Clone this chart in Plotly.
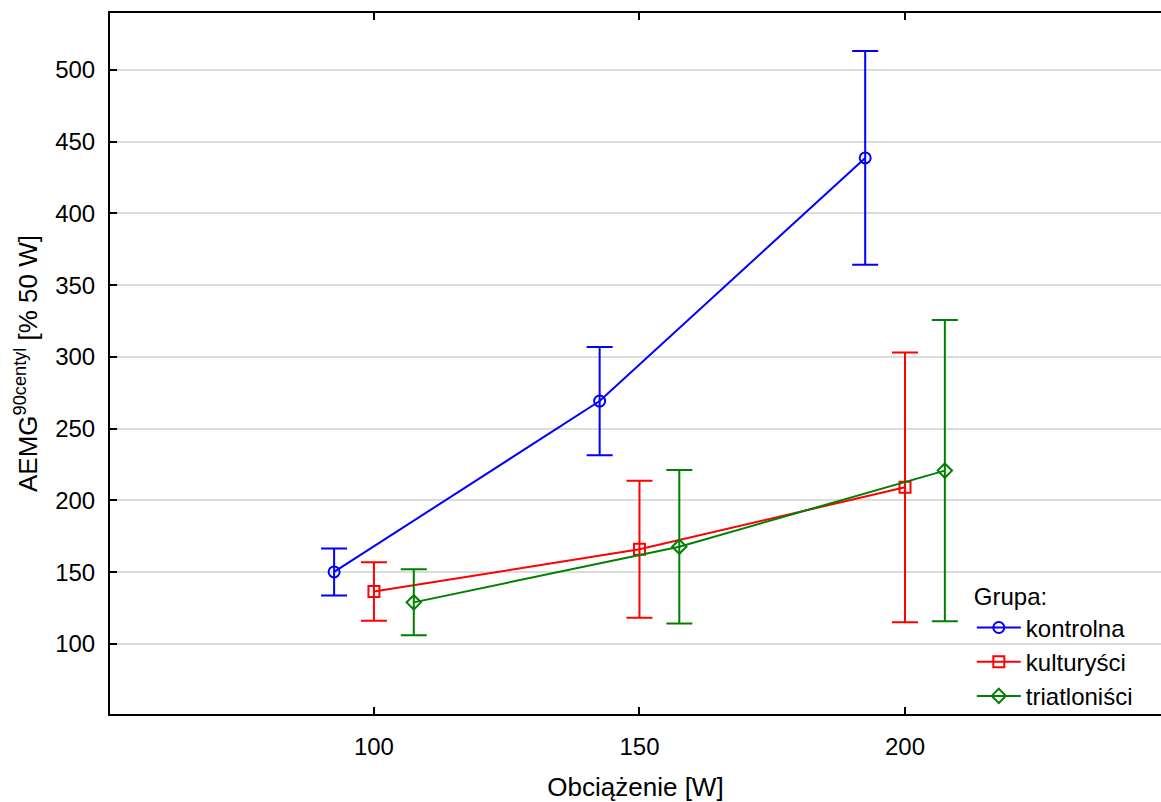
import plotly.graph_objects as go

loads = [100, 150, 200]
groups = ["kontrolna", "kulturyści", "triatloniści"]
means = {
    "kontrolna": [150.2, 269.3, 438.7],
    "kulturyści": [136.5, 166.0, 209.2],
    "triatloniści": [129.0, 167.8, 220.8],
}
errs = {
    "kontrolna": [16.4, 37.7, 74.5],
    "kulturyści": [20.4, 47.7, 94.0],
    "triatloniści": [23.0, 53.5, 105.0],
}
offsets = {"kontrolna": -7.5, "kulturyści": 0.0, "triatloniści": 7.5}
colors = {"kontrolna": "#0000FF", "kulturyści": "#FF0000", "triatloniści": "#008000"}
symbols = {"kontrolna": "circle-open", "kulturyści": "square-open", "triatloniści": "diamond-open"}

FONT = "Liberation Sans, Arial, sans-serif"

fig = go.Figure()
for g in groups:
    fig.add_trace(go.Scatter(
        x=[l + offsets[g] for l in loads],
        y=means[g],
        mode="lines+markers",
        name=g,
        line=dict(color=colors[g], width=2),
        marker=dict(symbol=symbols[g], size=11, color=colors[g], line=dict(width=2, color=colors[g])),
        error_y=dict(type="data", array=errs[g], visible=True, color=colors[g], thickness=2, width=13),
    ))

fig.update_layout(
    width=1161, height=802,
    margin=dict(l=110, r=0, t=13, b=88, autoexpand=False),
    paper_bgcolor="white", plot_bgcolor="white",
    font=dict(family=FONT, size=24, color="black"),
    showlegend=True,
    legend=dict(
        title=dict(text="Grupa:", font=dict(size=24)),
        font=dict(size=24),
        x=0.820, xanchor="left", y=-0.006, yanchor="bottom",
        bgcolor="rgba(0,0,0,0)",
        tracegroupgap=0, itemwidth=44,
    ),
    xaxis=dict(
        range=[50.3, 248.2],
        tickvals=loads, ticktext=[str(l) for l in loads],
        ticks="inside", ticklen=7, tickwidth=2, tickcolor="black",
        showline=True, linecolor="black", linewidth=2, mirror="ticks",
        showgrid=False, zeroline=False,
        tickfont=dict(size=24), ticklabelstandoff=10,
        title=dict(text="Obciążenie [W]", font=dict(size=26), standoff=35),
    ),
    yaxis=dict(
        range=[51.2, 539.7],
        tickvals=[100, 150, 200, 250, 300, 350, 400, 450, 500],
        ticks="inside", ticklen=7, tickwidth=2, tickcolor="black",
        showline=True, linecolor="black", linewidth=2, mirror=False,
        showgrid=True, gridcolor="#dcdcdc", gridwidth=2, zeroline=False,
        tickfont=dict(size=24), ticklabelstandoff=8,
        title=dict(text="AEMG<sup>90centyl</sup> [% 50 W]", font=dict(size=26), standoff=10),
    ),
)

fig.write_html(
    "out.html",
    config={"displayModeBar": False},
    post_script="document.body.style.margin='0';document.body.style.overflow='hidden';",
)
